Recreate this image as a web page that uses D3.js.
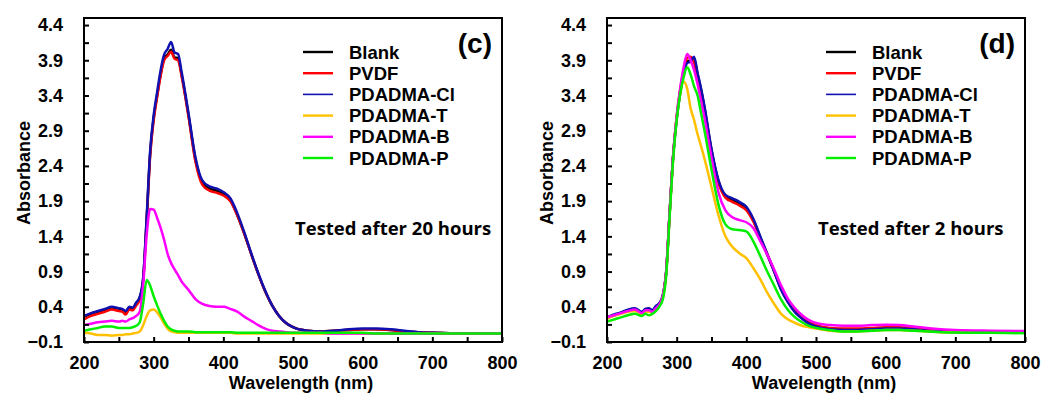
<!DOCTYPE html>
<html>
<head>
<meta charset="utf-8">
<script src="https://cdn.jsdelivr.net/npm/d3@7"></script>
<style>
  html, body { margin: 0; padding: 0; background: #ffffff; }
  svg { display: block; }
</style>
</head>
<body>
<div id="chart"></div>
<script>
// ── Data ──
var WAVELENGTHS = [200, 210, 220, 230, 240,
  250, 255, 260, 265, 270, 275, 280, 285, 290, 295, 300, 305, 310, 315, 320, 325, 330, 335, 340,
  350, 360, 370, 380, 390, 400, 410, 420, 430, 440, 450, 460, 470, 480, 490, 500,
  520, 540, 560, 580, 600, 620, 640, 660, 680, 700, 750, 800];

var SERIES_NAMES = ['Blank', 'PVDF', 'PDADMA-Cl', 'PDADMA-T', 'PDADMA-B', 'PDADMA-P'];
var SERIES_COLORS = ['#000000', '#ff0000', '#1010b0', '#ffc000', '#ff00ff', '#00ee00'];

var X_TICKS = [200, 300, 400, 500, 600, 700, 800];
var Y_TICKS = [-0.1, 0.4, 0.9, 1.4, 1.9, 2.4, 2.9, 3.4, 3.9, 4.4];

// panel (c): tested after 20 hours
var C_BLANK = [0.26, 0.30, 0.33, 0.36, 0.39,
  0.37, 0.36, 0.33, 0.39, 0.38, 0.45, 0.53, 0.80, 1.65, 2.58, 3.08, 3.40, 3.70, 3.92, 3.98, 4.05, 3.94, 3.93, 3.70,
  3.12, 2.49, 2.16, 2.08, 2.05, 2.00, 1.91, 1.70, 1.44, 1.15, 0.87, 0.62, 0.42, 0.27, 0.17, 0.11,
  0.06, 0.05, 0.06, 0.07, 0.08, 0.08, 0.07, 0.05, 0.04, 0.03, 0.02, 0.02];
var C_PVDF = [0.22, 0.27, 0.30, 0.33, 0.36,
  0.34, 0.33, 0.29, 0.36, 0.35, 0.42, 0.50, 0.78, 1.62, 2.55, 3.05, 3.38, 3.68, 3.90, 3.96, 4.02, 3.92, 3.90, 3.68,
  3.10, 2.46, 2.13, 2.05, 2.02, 1.98, 1.90, 1.70, 1.44, 1.15, 0.87, 0.62, 0.42, 0.27, 0.17, 0.11,
  0.06, 0.05, 0.06, 0.07, 0.08, 0.08, 0.07, 0.05, 0.04, 0.03, 0.02, 0.02];
var C_CL = [0.27, 0.31, 0.34, 0.37, 0.40,
  0.38, 0.37, 0.34, 0.40, 0.39, 0.46, 0.54, 0.82, 1.68, 2.62, 3.12, 3.45, 3.76, 3.98, 4.06, 4.16, 4.01, 3.99, 3.74,
  3.15, 2.52, 2.19, 2.11, 2.08, 2.03, 1.94, 1.73, 1.46, 1.16, 0.88, 0.63, 0.42, 0.27, 0.17, 0.11,
  0.06, 0.05, 0.06, 0.08, 0.09, 0.09, 0.08, 0.06, 0.04, 0.03, 0.02, 0.02];
var C_T = [0.03, 0.02, 0.00, 0.00, -0.01,
  0.00, 0.00, 0.01, 0.01, 0.02, 0.03, 0.05, 0.14, 0.27, 0.35, 0.36, 0.32, 0.25, 0.16, 0.09, 0.05, 0.04, 0.03, 0.03,
  0.03, 0.03, 0.03, 0.03, 0.03, 0.03, 0.03, 0.02, 0.02, 0.02, 0.02, 0.02, 0.02, 0.02, 0.02, 0.02,
  0.02, 0.02, 0.02, 0.02, 0.02, 0.02, 0.02, 0.02, 0.02, 0.02, 0.02, 0.02];
var C_B = [0.14, 0.16, 0.18, 0.19, 0.20,
  0.19, 0.20, 0.19, 0.22, 0.24, 0.27, 0.33, 0.72, 1.42, 1.79, 1.78, 1.66, 1.52, 1.35, 1.15, 1.02, 0.93, 0.85, 0.76,
  0.64, 0.51, 0.44, 0.41, 0.40, 0.40, 0.37, 0.33, 0.26, 0.20, 0.14, 0.09, 0.06, 0.05, 0.04, 0.03,
  0.03, 0.03, 0.02, 0.02, 0.02, 0.02, 0.02, 0.02, 0.02, 0.02, 0.02, 0.02];
var C_P = [0.06, 0.08, 0.10, 0.12, 0.12,
  0.10, 0.10, 0.10, 0.10, 0.11, 0.13, 0.18, 0.45, 0.78, 0.70, 0.55, 0.42, 0.30, 0.20, 0.12, 0.08, 0.06, 0.05, 0.05,
  0.05, 0.04, 0.04, 0.04, 0.04, 0.04, 0.04, 0.03, 0.03, 0.03, 0.03, 0.03, 0.03, 0.03, 0.03, 0.03,
  0.03, 0.03, 0.03, 0.03, 0.03, 0.02, 0.02, 0.02, 0.02, 0.02, 0.02, 0.02];

// panel (d): tested after 2 hours
var D_BLANK = [0.24, 0.28, 0.31, 0.35, 0.37,
  0.32, 0.36, 0.37, 0.34, 0.40, 0.44, 0.55, 0.90, 1.75, 2.55, 3.08, 3.45, 3.72, 3.88, 3.90, 3.92, 3.70, 3.48, 3.22,
  2.62, 2.18, 1.97, 1.92, 1.87, 1.80, 1.63, 1.38, 1.14, 0.90, 0.65, 0.47, 0.33, 0.24, 0.17, 0.13,
  0.09, 0.08, 0.08, 0.09, 0.10, 0.10, 0.09, 0.07, 0.06, 0.05, 0.04, 0.04];
var D_PVDF = [0.25, 0.28, 0.31, 0.34, 0.36,
  0.32, 0.35, 0.36, 0.34, 0.39, 0.44, 0.55, 0.90, 1.75, 2.55, 3.10, 3.48, 3.75, 3.93, 3.95, 3.86, 3.66, 3.45, 3.20,
  2.60, 2.16, 1.95, 1.89, 1.84, 1.77, 1.61, 1.38, 1.15, 0.91, 0.66, 0.48, 0.34, 0.25, 0.18, 0.14,
  0.10, 0.09, 0.09, 0.10, 0.11, 0.11, 0.10, 0.08, 0.07, 0.06, 0.05, 0.05];
var D_CL = [0.25, 0.29, 0.32, 0.36, 0.38,
  0.33, 0.37, 0.38, 0.35, 0.41, 0.45, 0.56, 0.90, 1.74, 2.54, 3.06, 3.43, 3.70, 3.86, 3.88, 3.95, 3.72, 3.50, 3.24,
  2.64, 2.20, 1.99, 1.94, 1.89, 1.82, 1.65, 1.40, 1.15, 0.90, 0.64, 0.46, 0.32, 0.23, 0.16, 0.12,
  0.08, 0.07, 0.07, 0.08, 0.09, 0.09, 0.08, 0.06, 0.05, 0.04, 0.04, 0.04];
var D_T = [0.23, 0.27, 0.30, 0.33, 0.34,
  0.30, 0.33, 0.33, 0.32, 0.37, 0.42, 0.53, 0.88, 1.72, 2.52, 3.08, 3.42, 3.60, 3.50, 3.22, 3.05, 2.85, 2.68, 2.50,
  2.10, 1.70, 1.40, 1.25, 1.16, 1.09, 0.95, 0.79, 0.60, 0.44, 0.30, 0.22, 0.17, 0.13, 0.11, 0.09,
  0.06, 0.05, 0.05, 0.06, 0.07, 0.07, 0.06, 0.05, 0.04, 0.04, 0.03, 0.03];
var D_B = [0.25, 0.28, 0.31, 0.34, 0.36,
  0.31, 0.35, 0.35, 0.33, 0.38, 0.43, 0.54, 0.90, 1.75, 2.55, 3.10, 3.50, 3.80, 3.99, 3.90, 3.76, 3.56, 3.32, 3.08,
  2.52, 2.02, 1.77, 1.67, 1.63, 1.60, 1.52, 1.33, 1.14, 0.93, 0.70, 0.51, 0.38, 0.28, 0.21, 0.17,
  0.14, 0.13, 0.13, 0.14, 0.145, 0.14, 0.12, 0.10, 0.08, 0.07, 0.06, 0.055];
var D_P = [0.19, 0.22, 0.25, 0.28, 0.30,
  0.27, 0.30, 0.28, 0.30, 0.34, 0.40, 0.50, 0.85, 1.70, 2.50, 3.05, 3.42, 3.66, 3.80, 3.70, 3.53, 3.40, 3.15, 2.90,
  2.35, 1.85, 1.57, 1.50, 1.49, 1.47, 1.33, 1.12, 0.90, 0.70, 0.50, 0.35, 0.25, 0.18, 0.13, 0.10,
  0.07, 0.05, 0.05, 0.06, 0.07, 0.07, 0.06, 0.05, 0.04, 0.035, 0.03, 0.025];

// ── Layout ──
var WIDTH = 1042, HEIGHT = 397;
var PLOT_TOP = 18, PLOT_BOTTOM = 342, PLOT_W = 418;
var X_DOMAIN = [200, 800];
var Y_DOMAIN = [-0.1, 4.5];
var FONT = '"Liberation Sans", Arial, Helvetica, sans-serif';
var NOTE_FONT = '"Open Sans", "Liberation Sans", sans-serif';
var LINE_W = 2.5;

var svg = d3.select('#chart').append('svg')
  .attr('width', WIDTH)
  .attr('height', HEIGHT);

function drawPanel(left, tag, note, seriesList) {
  var x = d3.scaleLinear().domain(X_DOMAIN).range([left, left + PLOT_W]);
  var y = d3.scaleLinear().domain(Y_DOMAIN).range([PLOT_BOTTOM, PLOT_TOP]);
  var g = svg.append('g');

  // curves
  var line = d3.line()
    .x(function (d) { return x(d[0]); })
    .y(function (d) { return y(d[1]); })
    .curve(d3.curveMonotoneX);

  seriesList.forEach(function (vals, i) {
    var pts = WAVELENGTHS.map(function (w, j) { return [w, vals[j]]; });
    g.append('path')
      .attr('d', line(pts))
      .attr('fill', 'none')
      .attr('stroke', SERIES_COLORS[i])
      .attr('stroke-width', LINE_W)
      .attr('stroke-linejoin', 'round');
  });

  // x axis: ticks every 50 inward, labels every 100
  var xTickVals = d3.range(X_DOMAIN[0], X_DOMAIN[1] + 1, 50);
  var xG = g.append('g')
    .attr('transform', 'translate(0,' + PLOT_BOTTOM + ')')
    .call(d3.axisBottom(x)
      .tickValues(xTickVals)
      .tickSizeInner(-5)
      .tickSizeOuter(0)
      .tickPadding(14)
      .tickFormat(function (d) { return X_TICKS.indexOf(d) !== -1 ? d : ''; }));
  xG.select('.domain').remove();
  xG.selectAll('.tick line').attr('stroke', '#000').attr('stroke-width', 2);
  xG.selectAll('.tick text')
    .attr('fill', '#000')
    .attr('font-family', FONT)
    .attr('font-weight', 'bold')
    .attr('font-size', 18);

  // y axis: ticks every 0.25 inward, labels every 0.5
  var yTickVals = d3.range(0, 19).map(function (k) { return +(Y_DOMAIN[0] + k * 0.25).toFixed(2); });
  var yG = g.append('g')
    .attr('transform', 'translate(' + left + ',0)')
    .call(d3.axisLeft(y)
      .tickValues(yTickVals)
      .tickSizeInner(-5)
      .tickSizeOuter(0)
      .tickPadding(21)
      .tickFormat(function (d) {
        return Y_TICKS.indexOf(d) !== -1 ? d3.format('.1f')(d) : '';
      }));
  yG.select('.domain').remove();
  yG.selectAll('.tick line').attr('stroke', '#000').attr('stroke-width', 2);
  yG.selectAll('.tick text')
    .attr('fill', '#000')
    .attr('font-family', FONT)
    .attr('font-weight', 'bold')
    .attr('font-size', 18);

  // frame
  g.append('rect')
    .attr('x', left)
    .attr('y', PLOT_TOP)
    .attr('width', PLOT_W)
    .attr('height', PLOT_BOTTOM - PLOT_TOP)
    .attr('fill', 'none')
    .attr('stroke', '#000')
    .attr('stroke-width', 2);

  // axis titles
  g.append('text')
    .attr('x', left + PLOT_W / 2 + 8)
    .attr('y', 389)
    .attr('text-anchor', 'middle')
    .attr('font-family', FONT)
    .attr('font-weight', 'bold')
    .attr('font-size', 18)
    .text('Wavelength (nm)');

  g.append('text')
    .attr('transform', 'translate(' + (left - 54) + ',173) rotate(-90)')
    .attr('text-anchor', 'middle')
    .attr('font-family', FONT)
    .attr('font-weight', 'bold')
    .attr('font-size', 18)
    .text('Absorbance');

  // panel tag
  g.append('text')
    .attr('x', left + PLOT_W - 10)
    .attr('y', 53)
    .attr('text-anchor', 'end')
    .attr('font-family', FONT)
    .attr('font-weight', 'bold')
    .attr('font-size', 28)
    .text(tag);

  // legend
  var legend = g.append('g').attr('transform', 'translate(' + (left + 219) + ',52)');
  SERIES_NAMES.forEach(function (name, i) {
    var row = legend.append('g').attr('transform', 'translate(0,' + (i * 21.2) + ')');
    row.append('line')
      .attr('x1', 0).attr('x2', 30)
      .attr('y1', 0).attr('y2', 0)
      .attr('stroke', SERIES_COLORS[i])
      .attr('stroke-width', i === 2 ? 1.6 : 2.4);
    row.append('text')
      .attr('x', 46)
      .attr('y', 6.5)
      .attr('font-family', FONT)
      .attr('font-weight', 'bold')
      .attr('font-size', 18.5)
      .text(name);
  });

  // note
  g.append('text')
    .attr('x', left + 211)
    .attr('y', 235)
    .attr('font-family', NOTE_FONT)
    .attr('font-weight', 'bold')
    .attr('font-size', 18.5)
    .text(note);
}

drawPanel(84, '(c)', 'Tested after 20 hours', [C_BLANK, C_PVDF, C_CL, C_T, C_B, C_P]);
drawPanel(607, '(d)', 'Tested after 2 hours', [D_BLANK, D_PVDF, D_CL, D_T, D_B, D_P]);
</script>
</body>
</html>
